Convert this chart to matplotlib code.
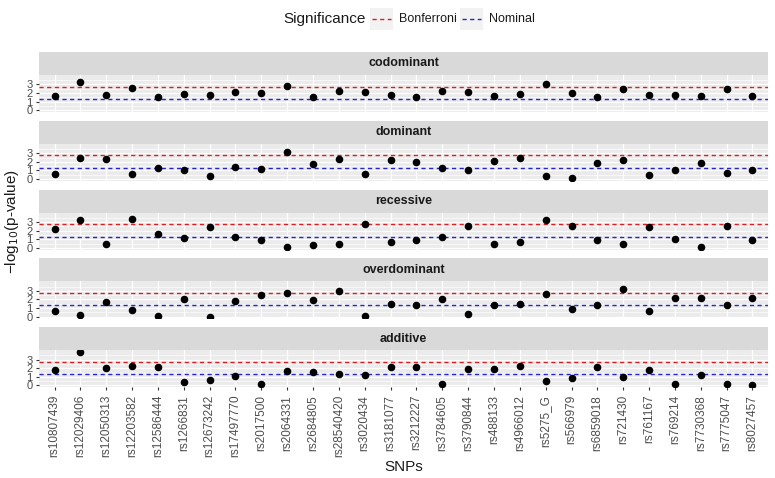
import matplotlib
matplotlib.use("Agg")
import matplotlib.pyplot as plt

plt.rcParams['font.family'] = ['Liberation Sans', 'DejaVu Sans']

snps = ["rs10807439", "rs12029406", "rs12050313", "rs12203582", "rs12586444",
        "rs1266831", "rs12673242", "rs17497770", "rs2017500", "rs2064331",
        "rs2684805", "rs28540420", "rs3020434", "rs3181077", "rs3212227",
        "rs3784605", "rs3790844", "rs488133", "rs4966012", "rs5275_G",
        "rs566979", "rs6859018", "rs721430", "rs761167", "rs769214",
        "rs7730368", "rs7775047", "rs8027457"]

models = ["codominant", "dominant", "recessive", "overdominant", "additive"]

codominant = [1.66, 3.29, 1.77, 2.64, 1.55, 1.88, 1.77, 2.10, 1.99, 2.86,
              1.55, 2.28, 2.10, 1.81, 1.55, 2.28, 2.17, 1.63, 1.84, 3.04,
              1.99, 1.55, 2.53, 1.77, 1.77, 1.66, 2.53, 1.66]
dominant = [0.56, 2.42, 2.30, 0.63, 1.30, 1.08, 0.30, 1.41, 1.19, 3.20,
            1.75, 2.30, 0.56, 2.19, 1.93, 1.30, 1.08, 2.08, 2.42, 0.33,
            0.11, 1.86, 2.19, 0.52, 1.00, 1.86, 0.67, 1.00]
recessive = [2.25, 3.24, 0.42, 3.36, 1.60, 1.11, 2.44, 1.30, 0.88, 0.08,
             0.31, 0.42, 2.79, 0.65, 0.88, 1.30, 2.56, 0.50, 0.65, 3.24,
             2.56, 0.88, 0.50, 2.37, 1.07, 0.08, 2.56, 0.88]
overdominant = [0.61, 0.15, 1.76, 0.73, 0.04, 2.06, 0.00, 1.87, 2.52, 2.79,
                1.98, 3.02, 0.04, 1.49, 1.30, 2.06, 0.27, 1.30, 1.49, 2.67,
                0.84, 1.30, 3.24, 0.65, 2.18, 2.18, 1.30, 2.21]
additive = [1.76, 3.89, 1.98, 2.21, 2.10, 0.38, 0.65, 1.07, 0.15, 1.64,
            1.53, 1.37, 1.18, 2.18, 2.10, 0.23, 1.87, 1.87, 2.21, 0.50,
            0.84, 2.10, 0.95, 1.76, 0.15, 1.26, 0.15, 0.04]

values = [codominant, dominant, recessive, overdominant, additive]

bonferroni = 2.75
nominal = 1.30

W, H = 775, 478
fig = plt.figure(figsize=(W / 100, H / 100), dpi=100)

left, right = 39, 768
strip_h = 23
panel_h = 37
period = 68.8
top0 = 52

x = list(range(len(snps)))

for i, (model, vals) in enumerate(zip(models, values)):
    st = top0 + i * period
    sax = fig.add_axes([left / W, 1 - (st + strip_h) / H, (right - left) / W, strip_h / H])
    sax.set_facecolor('#D9D9D9')
    sax.set_xticks([]); sax.set_yticks([])
    for s in sax.spines.values():
        s.set_visible(False)
    sax.text(0.5, 0.5, model, ha='center', va='center', fontsize=9,
             fontweight='bold', color='#1A1A1A', transform=sax.transAxes)

    pt = st + strip_h
    ax = fig.add_axes([left / W, 1 - (pt + panel_h) / H, (right - left) / W, panel_h / H])
    ax.set_facecolor('#EBEBEB')
    for s in ax.spines.values():
        s.set_visible(False)
    ax.set_xlim(-0.6, len(snps) - 0.4)
    ax.set_ylim(-0.2, 4.1)
    ax.set_yticks([0, 1, 2, 3])
    ax.set_yticks([0.5, 1.5, 2.5, 3.5], minor=True)
    ax.set_xticks(x)
    ax.grid(True, which='major', color='white', linewidth=0.9)
    ax.grid(True, which='minor', axis='y', color='white', linewidth=0.45)
    ax.set_axisbelow(True)
    ax.tick_params(axis='y', which='major', length=2.5, color='#333333',
                   labelsize=8, labelcolor='#4D4D4D', pad=2)
    ax.tick_params(axis='y', which='minor', length=0)
    ax.axhline(bonferroni, color='#E41A1C', linestyle=(0, (3, 2.5)), linewidth=1.0, zorder=2)
    ax.axhline(nominal, color='#2222DD', linestyle=(0, (3, 2.5)), linewidth=1.0, zorder=2)
    ax.scatter(x, vals, s=20, color='black', zorder=3)
    if i == len(models) - 1:
        ax.set_xticklabels(snps, rotation=90, fontsize=8.5, color='#4D4D4D')
        ax.tick_params(axis='x', length=2.5, color='#333333', pad=3)
        ax.set_xlabel('SNPs', fontsize=11, color='#1A1A1A', labelpad=2)
    else:
        ax.tick_params(axis='x', length=0, labelbottom=False)

fig.text(12 / W, 1 - 222 / H, '−log$_{10}$(p-value)', rotation=90, ha='center', va='center',
         fontsize=11, color='#1A1A1A')

# legend
ly = 19
fig.text(283 / W, 1 - ly / H, 'Significance', ha='left', va='center', fontsize=11, color='#1A1A1A')
for kx, col, lab in [(370, '#E41A1C', 'Bonferroni'), (460, '#2222DD', 'Nominal')]:
    kax = fig.add_axes([kx / W, 1 - (ly + 11) / H, 23 / W, 22 / H])
    kax.set_facecolor('#F2F2F2')
    kax.set_xticks([]); kax.set_yticks([])
    for s in kax.spines.values():
        s.set_visible(False)
    kax.set_xlim(0, 1); kax.set_ylim(0, 1)
    kax.plot([0.1, 0.9], [0.5, 0.5], color=col, linestyle=(0, (3, 2.5)), linewidth=1.0)
    fig.text((kx + 29) / W, 1 - ly / H, lab, ha='left', va='center', fontsize=9, color='#1A1A1A')

fig.savefig('out.png', dpi=100)
